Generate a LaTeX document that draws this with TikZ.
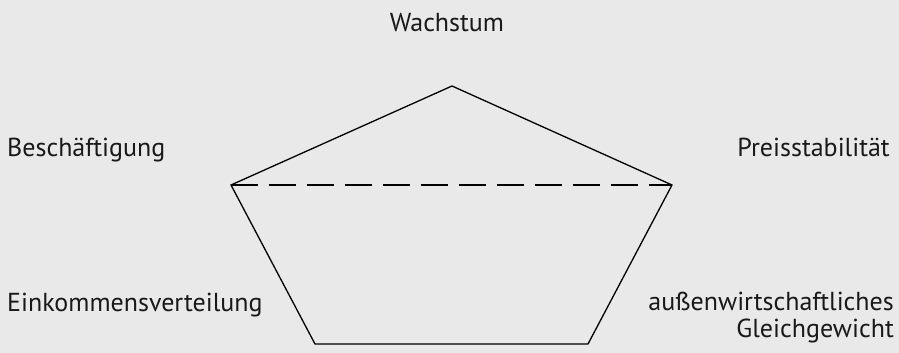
\documentclass[tikz,border=0pt]{standalone}
\usepackage{fontspec}
\setmainfont{PT Sans}
\usepackage{xcolor}
\usetikzlibrary{calc}
\definecolor{bggray}{RGB}{233,233,233}

\begin{document}
\begin{tikzpicture}[
  x=1pt, y=1pt,
  goal/.style={inner sep=0pt, font=\fontsize{26}{27.5}\selectfont, text=black!90},
  edge/.style={draw=black, line width=1.3pt, line join=miter},
  gap/.style={draw=black, line width=1.3pt, dash pattern=on 27pt off 11pt}
]
\fill[bggray] (0,0) rectangle (899,353);
\useasboundingbox (0,0) rectangle (899,353);

% corners of the pentagon
\coordinate (top) at (452,267);
\coordinate (left) at (231,168);
\coordinate (right) at (672,168);
\coordinate (botleft) at (315,9);
\coordinate (botright) at (588,9);

% goals
\node[goal, anchor=base] (wachstum) at (447,321) {Wachstum};
\node[goal, anchor=base west] (beschaeftigung) at (7,196) {Beschäftigung};
\node[goal, anchor=base east] (preis) at (890,196) {Preisstabilität};
\node[goal, anchor=base west] (einkommen) at (7,41) {Einkommensverteilung};
\node[goal, anchor=base east, align=right] (aussen) at (894,15) {außenwirtschaftliches\\Gleichgewicht};

\draw[edge] (left) -- (top) -- (right) -- (botright) -- (botleft) -- cycle;
\draw[gap] (left) -- (right);
\end{tikzpicture}
\end{document}
